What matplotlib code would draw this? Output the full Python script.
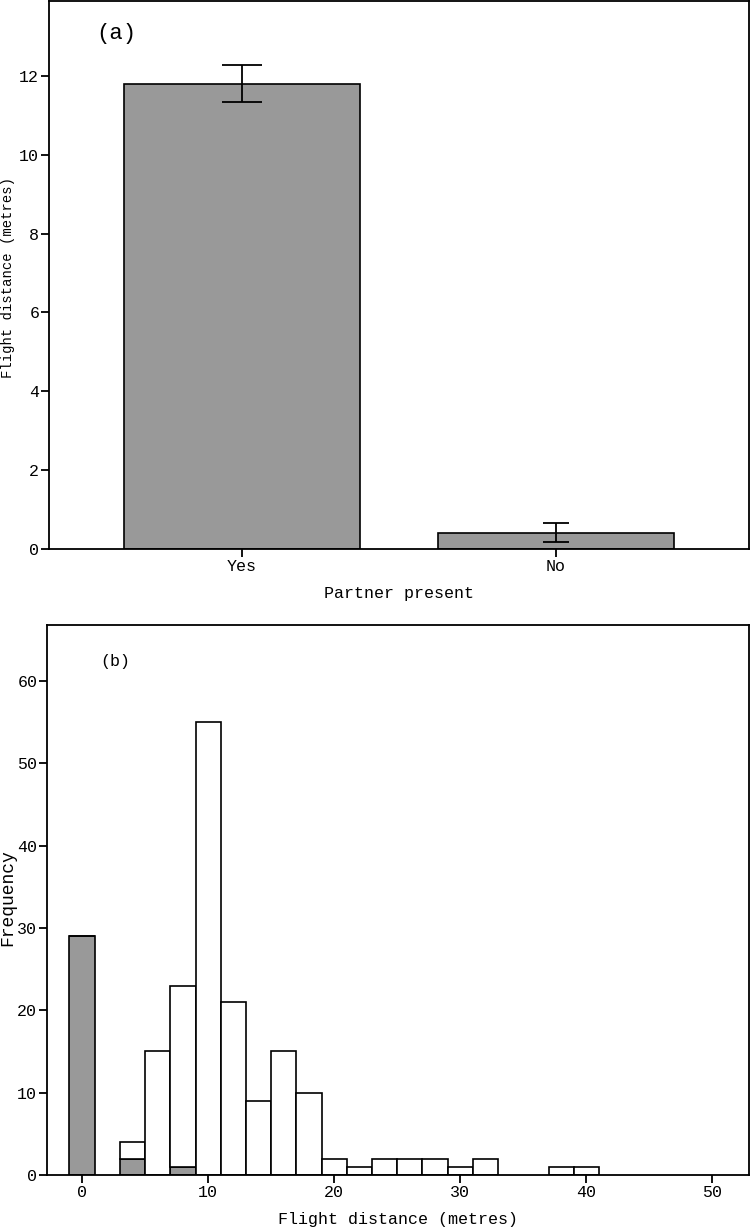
import matplotlib
matplotlib.use('Agg')
import matplotlib.pyplot as plt
import numpy as np

plt.rcParams['font.family'] = ['Liberation Mono', 'DejaVu Sans Mono']

# panel (a): mean flight distance by partner presence
partner = ['Yes', 'No']
mean_dist = [11.8, 0.4]
err_low = [11.33, 0.17]
err_high = [12.27, 0.65]

# panel (b): histogram, bins of width 2 centred on even distances
bin_centres = [0, 4, 6, 8, 10, 12, 14, 16, 18, 20, 22, 24, 26, 28, 30, 32, 38, 40]
freq_no = [29, 2, 0, 1, 0, 0, 0, 0, 0, 0, 0, 0, 0, 0, 0, 0, 0, 0]
freq_yes = [0, 2, 15, 22, 55, 21, 9, 15, 10, 2, 1, 2, 2, 2, 1, 2, 1, 1]

grey = '#999999'

fig = plt.figure(figsize=(7.5, 12.27), dpi=100)

# ---- (a)
ax1 = fig.add_axes([0.0653, 0.5526, 0.933, 0.4466])
x = np.arange(len(partner))
ax1.bar(x, mean_dist, width=0.75, color=grey, edgecolor='black', linewidth=1.2, zorder=2)
caps = [14.4, 9.7]
for i in range(len(partner)):
    c = (err_low[i] + err_high[i]) / 2
    ax1.errorbar(x[i], c, yerr=[[c - err_low[i]], [err_high[i] - c]], fmt='none',
                 ecolor='black', elinewidth=1.3, capsize=caps[i], capthick=1.3, zorder=3)
ax1.set_xlim(-0.613, 1.613)
ax1.set_ylim(0, 13.9)
ax1.set_yticks([0, 2, 4, 6, 8, 10, 12])
ax1.set_xticks(x)
ax1.set_xticklabels(partner)
ax1.set_xlabel('Partner present', fontsize=12, labelpad=9)
ax1.set_ylabel('Flight distance (metres)', fontsize=10, va='center')
ax1.yaxis.set_label_coords(-0.0586, 0.495)
ax1.text(0.068, 0.93, '(a)', transform=ax1.transAxes, fontsize=16)

# ---- (b)
ax2 = fig.add_axes([0.0627, 0.0424, 0.936, 0.4482])
ax2.bar(bin_centres, freq_no, width=2, color=grey, edgecolor='black', linewidth=1.2, zorder=2)
ax2.bar(bin_centres, freq_yes, width=2, bottom=freq_no, color='white',
        edgecolor='black', linewidth=1.2, zorder=2)
ax2.set_xlim(-2.78, 52.9)
ax2.set_ylim(0, 66.8)
ax2.set_xticks([0, 10, 20, 30, 40, 50])
ax2.set_yticks([0, 10, 20, 30, 40, 50, 60])
ax2.set_xlabel('Flight distance (metres)', fontsize=12, labelpad=9)
ax2.set_ylabel('Frequency', fontsize=13, va='center')
ax2.yaxis.set_label_coords(-0.0556, 0.505)
ax2.text(0.076, 0.925, '(b)', transform=ax2.transAxes, fontsize=12)

for ax in (ax1, ax2):
    for s in ax.spines.values():
        s.set_linewidth(1.3)
    ax.tick_params(axis='both', direction='out', length=6, width=1.3, labelsize=12, pad=1)

fig.savefig('out.png', dpi=100)
